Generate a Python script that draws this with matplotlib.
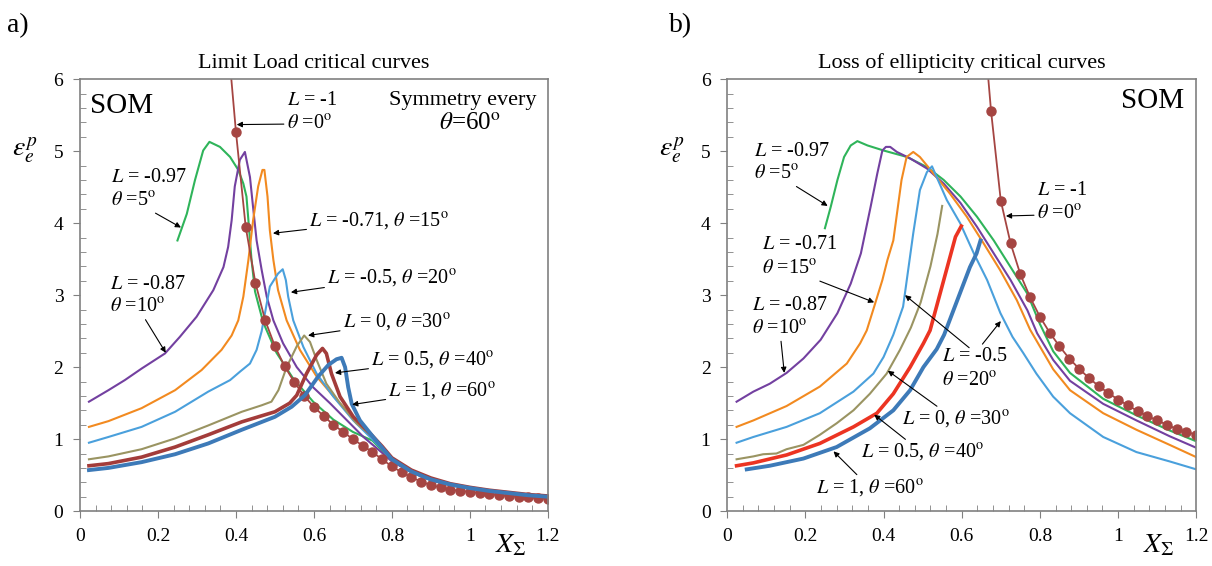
import matplotlib
matplotlib.use("Agg")
import matplotlib.pyplot as plt
from matplotlib.ticker import MultipleLocator

plt.rcParams["font.family"] = ["Liberation Serif", "DejaVu Serif"]
plt.rcParams["mathtext.fontset"] = "stix"

# ---- panel a) limit load critical curves ----
A_REF_X = [0.385, 0.4, 0.425, 0.45, 0.475, 0.5, 0.525, 0.55, 0.575, 0.6, 0.625, 0.65,
           0.675, 0.7, 0.725, 0.75, 0.775, 0.8, 0.825, 0.85, 0.875, 0.9, 0.925, 0.95,
           0.975, 1.0, 1.025, 1.05, 1.075, 1.1, 1.125, 1.15, 1.175, 1.2]
A_REF_Y = [6.2, 5.27, 3.95, 3.17, 2.65, 2.29, 2.01, 1.79, 1.60, 1.45, 1.32, 1.20,
           1.10, 1.0, 0.91, 0.82, 0.72, 0.62, 0.54, 0.47, 0.41, 0.36, 0.33, 0.30,
           0.28, 0.27, 0.25, 0.24, 0.22, 0.21, 0.20, 0.19, 0.18, 0.17]

A_GREEN_X = [0.25, 0.274, 0.295, 0.316, 0.332, 0.359, 0.385, 0.406, 0.419, 0.427, 0.432,
             0.44, 0.449, 0.47, 0.504, 0.547, 0.598, 0.65, 0.70, 0.75, 0.775, 0.8, 0.85,
             0.9, 0.95, 1.0, 1.05, 1.1, 1.15, 1.2]
A_GREEN_Y = [3.76, 4.13, 4.60, 5.01, 5.13, 5.06, 4.92, 4.74, 4.55, 4.37, 4.04,
             3.49, 3.05, 2.62, 2.20, 1.84, 1.52, 1.27, 1.10, 0.98, 0.84, 0.70, 0.54,
             0.43, 0.36, 0.31, 0.27, 0.24, 0.21, 0.19]
A_PURPLE_X = [0.023, 0.073, 0.115, 0.158, 0.218, 0.256, 0.299, 0.342, 0.368, 0.38, 0.389,
              0.397, 0.41, 0.423, 0.436, 0.444, 0.453, 0.466, 0.479, 0.496, 0.521, 0.556,
              0.598, 0.641, 0.685, 0.727, 0.775, 0.8, 0.85, 0.9, 0.95, 1.0, 1.05, 1.1,
              1.15, 1.2]
A_PURPLE_Y = [1.52, 1.68, 1.82, 1.98, 2.19, 2.42, 2.70, 3.07, 3.39, 3.67, 4.04,
              4.51, 4.88, 4.99, 4.64, 4.22, 3.76, 3.35, 2.98, 2.65, 2.33, 2.00,
              1.72, 1.50, 1.26, 1.03, 0.81, 0.69, 0.54, 0.43, 0.36, 0.31, 0.27, 0.24,
              0.21, 0.19]
A_ORANGE_X = [0.023, 0.073, 0.158, 0.244, 0.312, 0.363, 0.389, 0.406, 0.419, 0.432, 0.444,
              0.457, 0.468, 0.473, 0.481, 0.487, 0.496, 0.508, 0.53, 0.564, 0.607, 0.659,
              0.709, 0.752, 0.775, 0.8, 0.85, 0.9, 0.95, 1.0, 1.05, 1.1, 1.15, 1.2]
A_ORANGE_Y = [1.17, 1.25, 1.43, 1.68, 1.96, 2.24, 2.44, 2.65, 2.98, 3.49, 4.04,
              4.51, 4.74, 4.74, 4.37, 3.90, 3.49, 3.07, 2.65, 2.24, 1.87, 1.54,
              1.26, 1.03, 0.86, 0.71, 0.55, 0.44, 0.37, 0.32, 0.28, 0.25, 0.22, 0.20]
A_LBLUE_X = [0.023, 0.073, 0.158, 0.244, 0.329, 0.385, 0.411, 0.436, 0.453, 0.466, 0.487,
             0.508, 0.52, 0.528, 0.534, 0.547, 0.573, 0.607, 0.65, 0.701, 0.744, 0.775,
             0.8, 0.85, 0.9, 0.95, 1.0, 1.05, 1.1, 1.15, 1.2]
A_LBLUE_Y = [0.95, 1.03, 1.17, 1.38, 1.66, 1.82, 1.94, 2.05, 2.24, 2.50, 3.12,
             3.30, 3.36, 3.21, 2.98, 2.65, 2.28, 1.91, 1.59, 1.26, 1.03, 0.86,
             0.71, 0.55, 0.44, 0.37, 0.32, 0.28, 0.25, 0.22, 0.20]
A_KHAKI_X = [0.023, 0.073, 0.158, 0.244, 0.329, 0.415, 0.466, 0.491, 0.509, 0.53, 0.556,
             0.575, 0.59, 0.607, 0.632, 0.667, 0.709, 0.752, 0.775, 0.8, 0.85, 0.9, 0.95,
             1.0, 1.05, 1.1, 1.15, 1.2]
A_KHAKI_Y = [0.72, 0.76, 0.86, 1.01, 1.19, 1.38, 1.47, 1.52, 1.68, 2.00, 2.29,
             2.44, 2.35, 2.10, 1.77, 1.50, 1.22, 1.03, 0.87, 0.72, 0.56, 0.45, 0.37,
             0.32, 0.28, 0.25, 0.22, 0.20]
A_BROWN_X = [0.023, 0.073, 0.158, 0.244, 0.329, 0.415, 0.5, 0.538, 0.556, 0.581, 0.607,
             0.622, 0.632, 0.645, 0.667, 0.701, 0.744, 0.775, 0.8, 0.85, 0.9, 0.95, 1.0,
             1.05, 1.1, 1.15, 1.2]
A_BROWN_Y = [0.63, 0.66, 0.75, 0.89, 1.06, 1.24, 1.38, 1.50, 1.61, 1.91, 2.17,
             2.26, 2.19, 1.91, 1.59, 1.31, 1.08, 0.90, 0.74, 0.57, 0.46, 0.38, 0.33,
             0.29, 0.26, 0.23, 0.21]
A_BLUE_X = [0.023, 0.073, 0.158, 0.244, 0.329, 0.415, 0.5, 0.543, 0.577, 0.611, 0.637,
            0.658, 0.671, 0.68, 0.688, 0.697, 0.718, 0.752, 0.775, 0.8, 0.85, 0.9, 0.95,
            1.0, 1.05, 1.1, 1.15, 1.2]
A_BLUE_Y = [0.57, 0.60, 0.68, 0.79, 0.94, 1.13, 1.31, 1.45, 1.61, 1.87, 2.03,
            2.11, 2.13, 2.00, 1.72, 1.49, 1.26, 1.03, 0.88, 0.72, 0.55, 0.44, 0.37,
            0.32, 0.28, 0.25, 0.22, 0.20]

# ---- panel b) loss of ellipticity critical curves ----
B_REF_X = [0.665, 0.675, 0.7, 0.725, 0.75, 0.775, 0.8, 0.825, 0.85, 0.875, 0.9, 0.925,
           0.95, 0.975, 1.0, 1.025, 1.05, 1.075, 1.1, 1.125, 1.15, 1.175, 1.2]
B_REF_Y = [6.2, 5.56, 4.31, 3.72, 3.29, 2.97, 2.70, 2.48, 2.29, 2.12, 1.98, 1.85,
           1.74, 1.64, 1.55, 1.47, 1.39, 1.32, 1.26, 1.20, 1.14, 1.10, 1.06]

B_GREEN_X = [0.25, 0.265, 0.282, 0.299, 0.316, 0.333, 0.359, 0.4, 0.46, 0.511, 0.554, 0.597,
             0.639, 0.682, 0.725, 0.768, 0.8, 0.834, 0.877, 0.962, 1.047, 1.132, 1.2]
B_GREEN_Y = [3.93, 4.23, 4.60, 4.92, 5.08, 5.14, 5.08, 5.01, 4.92, 4.78, 4.60, 4.37,
             4.09, 3.76, 3.39, 3.02, 2.60, 2.22, 1.92, 1.56, 1.33, 1.12, 0.97]
B_PURPLE_X = [0.024, 0.067, 0.109, 0.152, 0.195, 0.239, 0.282, 0.316, 0.342, 0.367, 0.384,
              0.397, 0.406, 0.417, 0.434, 0.468, 0.511, 0.554, 0.597, 0.639, 0.682, 0.725,
              0.768, 0.793, 0.834, 0.877, 0.962, 1.047, 1.132, 1.2]
B_PURPLE_Y = [1.52, 1.66, 1.77, 1.92, 2.12, 2.38, 2.75, 3.16, 3.58, 4.23, 4.69,
              5.01, 5.06, 5.06, 4.99, 4.90, 4.76, 4.55, 4.28, 3.95, 3.58, 3.21,
              2.79, 2.47, 2.10, 1.81, 1.49, 1.26, 1.04, 0.88]
B_ORANGE_X = [0.024, 0.067, 0.152, 0.237, 0.306, 0.34, 0.357, 0.376, 0.397, 0.41, 0.425,
              0.446, 0.459, 0.476, 0.493, 0.528, 0.57, 0.613, 0.656, 0.698, 0.741, 0.775,
              0.834, 0.877, 0.962, 1.047, 1.132, 1.2]
B_ORANGE_Y = [1.17, 1.26, 1.46, 1.73, 2.05, 2.33, 2.51, 2.84, 3.21, 3.49, 3.76,
              4.60, 4.92, 4.99, 4.92, 4.69, 4.41, 4.09, 3.72, 3.35, 2.93, 2.52,
              1.97, 1.68, 1.36, 1.13, 0.92, 0.75]
B_LBLUE_X = [0.024, 0.067, 0.152, 0.237, 0.323, 0.374, 0.4, 0.425, 0.45, 0.476, 0.493,
             0.511, 0.524, 0.536, 0.562, 0.596, 0.631, 0.665, 0.699, 0.73, 0.757, 0.791,
             0.834, 0.877, 0.962, 1.047, 1.132, 1.2]
B_LBLUE_Y = [0.95, 1.03, 1.17, 1.36, 1.66, 1.91, 2.14, 2.45, 2.84, 3.86, 4.46,
             4.71, 4.79, 4.64, 4.32, 4.00, 3.58, 3.21, 2.75, 2.42, 2.20, 1.91,
             1.59, 1.36, 1.03, 0.82, 0.69, 0.58]
B_KHAKI_X = [0.024, 0.067, 0.092, 0.126, 0.152, 0.195, 0.237, 0.28, 0.323, 0.365, 0.408,
             0.442, 0.47, 0.495, 0.52, 0.538, 0.55]
B_KHAKI_Y = [0.72, 0.76, 0.79, 0.80, 0.86, 0.92, 1.06, 1.22, 1.40, 1.63, 1.91,
             2.24, 2.55, 2.90, 3.40, 3.85, 4.24]
B_RED_X = [0.024, 0.067, 0.152, 0.237, 0.323, 0.383, 0.425, 0.468, 0.502, 0.519, 0.554,
           0.584, 0.599]
B_RED_Y = [0.63, 0.67, 0.78, 0.94, 1.17, 1.36, 1.63, 2.00, 2.33, 2.51, 3.21,
           3.81, 3.96]
B_BLUE_X = [0.05, 0.109, 0.195, 0.28, 0.365, 0.425, 0.468, 0.502, 0.536, 0.555, 0.595,
            0.621, 0.638, 0.648]
B_BLUE_Y = [0.58, 0.63, 0.73, 0.89, 1.15, 1.40, 1.68, 2.00, 2.25, 2.45, 3.02,
            3.39, 3.58, 3.76]

GREEN = "#2fb45a"
PURPLE = "#7340a0"
ORANGE = "#f28a20"
LBLUE = "#4aa0dc"
KHAKI = "#9a9462"
BROWN = "#a33c3a"
BLUE = "#3d7ab8"
RED = "#ec3422"
REF = "#a54542"


def style_axes(ax, title):
    ax.set_xlim(0, 1.2)
    ax.set_ylim(0, 6)
    ax.xaxis.set_minor_locator(MultipleLocator(0.04))
    ax.yaxis.set_major_locator(MultipleLocator(1))
    ax.yaxis.set_minor_locator(MultipleLocator(0.2))
    ax.set_xticks([0, 0.2, 0.4, 0.6, 0.8, 1.0, 1.2])
    ax.set_xticklabels(["0", "0.2", "0.4", "0.6", "0.8", "1", "1.2"])
    ax.tick_params(which="major", direction="out", length=5, color="#808080",
                   labelsize=14, pad=7)
    ax.tick_params(which="minor", direction="in", length=4, color="#808080")
    for sp in ax.spines.values():
        sp.set_color("#808080")
        sp.set_linewidth(1.2)
    ax.set_title(title, fontsize=16, pad=8)
    ax.text(-0.11, 5.0, r"$\varepsilon_e^p$", fontsize=20, ha="right", va="center",
            clip_on=False)
    ax.set_xlabel(r"$X_\Sigma$", fontsize=20, va="top")
    ax.xaxis.set_label_coords(0.92, -0.05)


def note(ax, txt, xy, xytext):
    ax.annotate(txt, xy=xy, xytext=xytext, fontsize=14.5, va="center",
                arrowprops=dict(arrowstyle="-|>", color="k", lw=0.8,
                                mutation_scale=8, shrinkA=0, shrinkB=0))


def label(ax, txt, x, y):
    ax.text(x, y, txt, fontsize=14.5, va="center")


deg = r"$^{\mathrm{o}}$"

fig = plt.figure(figsize=(12.12, 5.66), dpi=100)
ax1 = fig.add_axes([0.066, 0.097, 0.386, 0.763])
ax2 = fig.add_axes([0.600, 0.097, 0.387, 0.763])

# panel a
ax1.plot(A_GREEN_X, A_GREEN_Y, color=GREEN, lw=1.5)
ax1.plot(A_PURPLE_X, A_PURPLE_Y, color=PURPLE, lw=1.5)
ax1.plot(A_ORANGE_X, A_ORANGE_Y, color=ORANGE, lw=1.5)
ax1.plot(A_LBLUE_X, A_LBLUE_Y, color=LBLUE, lw=1.5)
ax1.plot(A_KHAKI_X, A_KHAKI_Y, color=KHAKI, lw=1.5)
ax1.plot(A_REF_X, A_REF_Y, color=REF, lw=1.3, marker="o", ms=6.5,
         markevery=range(1, len(A_REF_X)))
ax1.plot(A_BROWN_X, A_BROWN_Y, color=BROWN, lw=2.6)
ax1.plot(A_BLUE_X, A_BLUE_Y, color=BLUE, lw=2.8)
style_axes(ax1, "Limit Load critical curves")

ax1.text(0.025, 5.63, "SOM", fontsize=21, va="center")
ax1.text(1.17, 5.7, "Symmetry every", fontsize=16, ha="right", va="center")
ax1.text(1.0, 5.38, r"$\theta$=60$^{\mathrm{o}}$", fontsize=18, ha="center", va="center")
label(ax1, r"$L$ = -1", 0.53, 5.70)
note(ax1, r"$\theta$ =0" + deg, (0.402, 5.37), (0.53, 5.38))
label(ax1, r"$L$ = -0.97", 0.08, 4.63)
note(ax1, r"$\theta$ =5" + deg, (0.259, 3.94), (0.08, 4.31))
note(ax1, r"$L$ = -0.71, $\theta$ =15" + deg, (0.495, 3.86), (0.588, 4.03))
label(ax1, r"$L$ = -0.87", 0.078, 3.15)
note(ax1, r"$\theta$ =10" + deg, (0.22, 2.2), (0.078, 2.83))
note(ax1, r"$L$ = -0.5, $\theta$ =20" + deg, (0.541, 3.04), (0.634, 3.24))
note(ax1, r"$L$ = 0, $\theta$ =30" + deg, (0.585, 2.44), (0.674, 2.62))
note(ax1, r"$L$ = 0.5, $\theta$ =40" + deg, (0.654, 1.92), (0.747, 2.09))
note(ax1, r"$L$ = 1, $\theta$ =60" + deg, (0.698, 1.48), (0.791, 1.67))

# panel b
ax2.plot(B_GREEN_X, B_GREEN_Y, color=GREEN, lw=1.5)
ax2.plot(B_PURPLE_X, B_PURPLE_Y, color=PURPLE, lw=1.5)
ax2.plot(B_ORANGE_X, B_ORANGE_Y, color=ORANGE, lw=1.5)
ax2.plot(B_LBLUE_X, B_LBLUE_Y, color=LBLUE, lw=1.5)
ax2.plot(B_KHAKI_X, B_KHAKI_Y, color=KHAKI, lw=1.5)
ax2.plot(B_RED_X, B_RED_Y, color=RED, lw=2.6)
ax2.plot(B_BLUE_X, B_BLUE_Y, color=BLUE, lw=2.8)
ax2.plot(B_REF_X, B_REF_Y, color=REF, lw=1.3, marker="o", ms=6.5,
         markevery=range(1, len(B_REF_X)))
style_axes(ax2, "Loss of ellipticity critical curves")

ax2.text(1.17, 5.70, "SOM", fontsize=21, ha="right", va="center")
label(ax2, r"$L$ = -0.97", 0.069, 5.0)
note(ax2, r"$\theta$ =5" + deg, (0.257, 4.24), (0.069, 4.68))
label(ax2, r"$L$ = -1", 0.792, 4.45)
note(ax2, r"$\theta$ =0" + deg, (0.713, 4.10), (0.792, 4.12))
label(ax2, r"$L$ = -0.71", 0.089, 3.71)
note(ax2, r"$\theta$ =15" + deg, (0.376, 2.9), (0.089, 3.36))
label(ax2, r"$L$ = -0.87", 0.064, 2.85)
note(ax2, r"$\theta$ =10" + deg, (0.146, 1.92), (0.064, 2.53))
label(ax2, r"$L$ = -0.5", 0.55, 2.15)
label(ax2, r"$\theta$ =20" + deg, 0.55, 1.81)
for tip, tail in [((0.455, 3.0), (0.619, 2.27)), ((0.70, 2.64), (0.653, 2.32))]:
    ax2.annotate("", xy=tip, xytext=tail,
                 arrowprops=dict(arrowstyle="-|>", color="k", lw=0.8, mutation_scale=8,
                                 shrinkA=0, shrinkB=0))
note(ax2, r"$L$ = 0, $\theta$ =30" + deg, (0.411, 1.95), (0.446, 1.27))
note(ax2, r"$L$ = 0.5, $\theta$ =40" + deg, (0.376, 1.34), (0.342, 0.81))
note(ax2, r"$L$ = 1, $\theta$ =60" + deg, (0.272, 0.83), (0.228, 0.32))

fig.text(0.006, 0.955, "a)", fontsize=20, va="center")
fig.text(0.552, 0.955, "b)", fontsize=20, va="center")

fig.savefig("out.png", dpi=100)
